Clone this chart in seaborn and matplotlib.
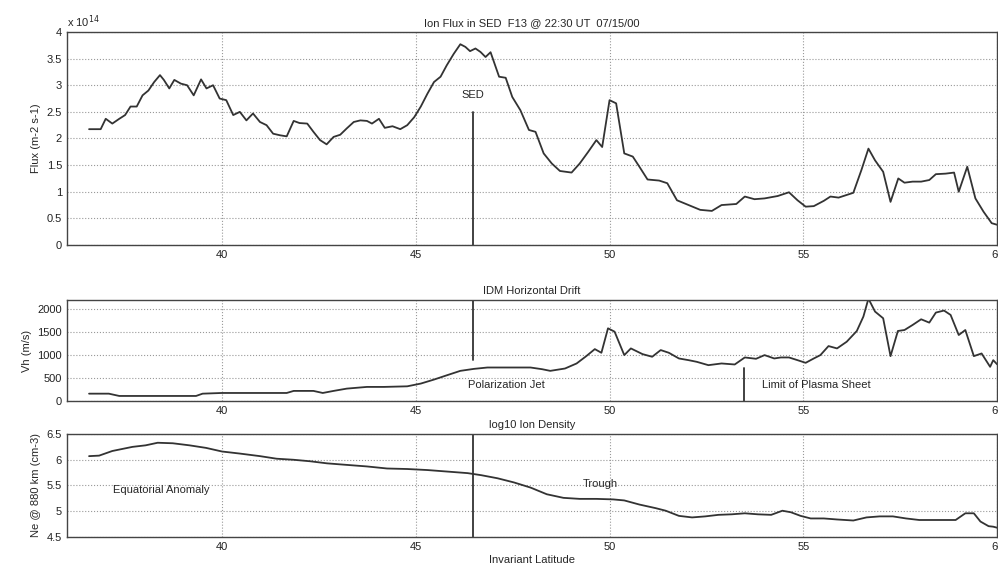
import numpy as np
import pandas as pd
import seaborn as sns
import matplotlib.pyplot as plt

# ion flux in SED (units of 1e14 m-2 s-1)
flux_lat = [36.57, 36.87, 37.0, 37.17, 37.35, 37.5, 37.64, 37.8, 37.95, 38.1, 38.25, 38.4,
            38.5, 38.64, 38.77, 38.94, 39.1, 39.27, 39.46, 39.6, 39.77, 39.94, 40.11, 40.29,
            40.46, 40.63, 40.8, 40.98, 41.15, 41.32, 41.5, 41.67, 41.85, 42.0, 42.2, 42.36,
            42.53, 42.7, 42.88, 43.05, 43.22, 43.4, 43.57, 43.74, 43.87, 44.05, 44.2, 44.4,
            44.6, 44.78, 44.96, 45.13, 45.3, 45.47, 45.64, 45.8, 45.98, 46.15, 46.28, 46.4,
            46.54, 46.67, 46.8, 46.93, 47.15, 47.32, 47.49, 47.7, 47.92, 48.09, 48.3, 48.51,
            48.72, 49.02, 49.23, 49.45, 49.66, 49.81, 50.0, 50.17, 50.38, 50.6, 50.77, 50.98,
            51.28, 51.49, 51.74, 52.04, 52.34, 52.64, 52.89, 53.27, 53.49, 53.74, 54.0, 54.34,
            54.63, 54.85, 55.06, 55.27, 55.53, 55.7, 55.91, 56.12, 56.29, 56.5, 56.68, 56.85,
            57.06, 57.25, 57.45, 57.61, 57.82, 58.04, 58.25, 58.42, 58.67, 58.89, 59.01, 59.23,
            59.44, 59.65, 59.86, 60.0]
flux_val = [2.175, 2.175, 2.37, 2.28, 2.37, 2.44, 2.6, 2.6, 2.81, 2.9, 3.06, 3.19,
            3.1, 2.94, 3.1, 3.03, 3.0, 2.81, 3.11, 2.94, 3.0, 2.75, 2.72, 2.44,
            2.5, 2.34, 2.47, 2.31, 2.25, 2.09, 2.06, 2.04, 2.33, 2.29, 2.28, 2.125,
            1.97, 1.89, 2.03, 2.07, 2.19, 2.31, 2.34, 2.33, 2.28, 2.37, 2.2, 2.23,
            2.175, 2.25, 2.4, 2.6, 2.84, 3.06, 3.16, 3.375, 3.59, 3.77, 3.72, 3.64,
            3.69, 3.625, 3.53, 3.62, 3.16, 3.14, 2.78, 2.53, 2.16, 2.125, 1.72, 1.53,
            1.39, 1.36, 1.53, 1.75, 1.97, 1.84, 2.72, 2.66, 1.72, 1.66, 1.47, 1.23,
            1.21, 1.16, 0.84, 0.75, 0.66, 0.64, 0.75, 0.77, 0.91, 0.86, 0.875, 0.92,
            0.99, 0.84, 0.72, 0.73, 0.83, 0.91, 0.89, 0.94, 0.98, 1.41, 1.81, 1.59,
            1.375, 0.81, 1.25, 1.17, 1.19, 1.19, 1.22, 1.33, 1.34, 1.36, 1.0, 1.47,
            0.875, 0.625, 0.41, 0.38]

# IDM horizontal drift (m/s)
drift_lat = [36.57, 37.08, 37.35, 38.12, 39.33, 39.5, 40.0, 41.67, 41.85, 42.36, 42.6, 42.88,
             43.22, 43.74, 44.18, 44.78, 45.13, 45.47, 45.8, 46.15, 46.5, 46.85, 47.19, 47.53,
             47.96, 48.26, 48.47, 48.85, 49.15, 49.4, 49.62, 49.79, 49.96, 50.13, 50.38, 50.55,
             50.85, 51.1, 51.32, 51.53, 51.79, 52.04, 52.25, 52.55, 52.89, 53.23, 53.49, 53.78,
             54.0, 54.25, 54.42, 54.63, 54.85, 55.06, 55.27, 55.44, 55.65, 55.87, 56.12, 56.38,
             56.55, 56.68, 56.85, 57.06, 57.25, 57.44, 57.61, 57.82, 58.04, 58.25, 58.42, 58.63,
             58.8, 59.01, 59.18, 59.4, 59.6, 59.82, 59.9, 60.0]
drift_val = [160, 160, 110, 110, 110, 160, 175, 175, 220, 220, 175, 220,
             270, 307, 307, 320, 380, 467, 560, 657, 700, 730, 730, 730,
             730, 693, 657, 708, 818, 978, 1131, 1051, 1584, 1511, 1000, 1146,
             1022, 964, 1110, 1051, 927, 890, 854, 781, 818, 796, 949, 920,
             1000, 927, 949, 949, 890, 832, 927, 1000, 1197, 1146, 1292, 1526,
             1840, 2230, 1949, 1803, 978, 1526, 1547, 1657, 1781, 1708, 1927, 1971,
             1876, 1438, 1547, 978, 1036, 745, 890, 800]

# log10 ion density (cm-3)
dens_lat = [36.57, 36.83, 37.17, 37.69, 38.03, 38.34, 38.73, 39.16, 39.59, 40.0, 40.46, 40.98,
            41.41, 41.84, 42.28, 42.71, 43.22, 43.74, 44.26, 44.78, 45.3, 45.82, 46.34, 46.69,
            47.11, 47.53, 47.96, 48.38, 48.81, 49.23, 49.66, 50.09, 50.38, 50.77, 51.19, 51.45,
            51.79, 52.13, 52.47, 52.81, 53.15, 53.49, 53.83, 54.17, 54.46, 54.68, 54.93, 55.19,
            55.53, 55.87, 56.29, 56.63, 56.97, 57.31, 57.65, 57.99, 58.42, 58.93, 59.18, 59.4,
            59.57, 59.78, 59.9, 60.0]
dens_val = [6.07, 6.08, 6.17, 6.25, 6.28, 6.33, 6.32, 6.28, 6.23, 6.16, 6.12, 6.07,
            6.02, 6.0, 5.97, 5.93, 5.9, 5.87, 5.83, 5.82, 5.8, 5.77, 5.74, 5.7,
            5.64, 5.56, 5.46, 5.33, 5.26, 5.24, 5.24, 5.23, 5.21, 5.13, 5.06, 5.01,
            4.91, 4.88, 4.9, 4.93, 4.94, 4.96, 4.94, 4.93, 5.01, 4.98, 4.91, 4.86,
            4.86, 4.84, 4.82, 4.88, 4.9, 4.9, 4.86, 4.83, 4.83, 4.83, 4.96, 4.96,
            4.8, 4.71, 4.7, 4.68]

sed_lat = 46.48
plasma_sheet_lat = 53.46

flux = pd.DataFrame({"lat": flux_lat, "val": flux_val})
drift = pd.DataFrame({"lat": drift_lat, "val": drift_val})
dens = pd.DataFrame({"lat": dens_lat, "val": dens_val})

sns.set_style("white")
plt.rcParams["font.family"] = ["Liberation Sans", "DejaVu Sans"]
plt.rcParams["font.size"] = 8

fig = plt.figure(figsize=(9.98, 5.64), dpi=100)
ax1 = fig.add_axes([0.0671, 0.5656, 0.932, 0.3777])
ax2 = fig.add_axes([0.0671, 0.289, 0.932, 0.179])
ax3 = fig.add_axes([0.0671, 0.0479, 0.932, 0.1826])

line_col = "#333333"
for ax, df in [(ax1, flux), (ax2, drift), (ax3, dens)]:
    sns.lineplot(data=df, x="lat", y="val", ax=ax, color=line_col, lw=1.3,
                 estimator=None, sort=False)
    ax.set_xlim(36, 60)
    ax.set_xticks([40, 45, 50, 55, 60])
    ax.grid(True, linestyle=":", color="#999999", lw=0.8)
    ax.tick_params(direction="in", length=4, labelsize=8, colors="#222222")
    for s in ax.spines.values():
        s.set_color("#444444")
        s.set_linewidth(1.0)
    ax.set_xlabel("")

ax1.set_ylim(0, 4)
ax1.set_yticks(np.arange(0, 4.01, 0.5))
ax1.set_yticklabels(["0", "0.5", "1", "1.5", "2", "2.5", "3", "3.5", "4"])
ax1.set_ylabel("Flux (m-2 s-1)", fontsize=8)
ax1.set_title("Ion Flux in SED  F13 @ 22:30 UT  07/15/00", fontsize=8, pad=4)
ax1.text(0.0, 1.01, "x 10$^{14}$", transform=ax1.transAxes, fontsize=8, va="bottom")
ax1.plot([sed_lat, sed_lat], [0, 2.5], color=line_col, lw=1.3)
ax1.text(sed_lat, 2.82, "SED", ha="center", va="center", fontsize=8)

ax2.set_ylim(0, 2200)
ax2.set_yticks([0, 500, 1000, 1500, 2000])
ax2.set_ylabel("Vh (m/s)", fontsize=8)
ax2.set_title("IDM Horizontal Drift", fontsize=8, pad=4)
ax2.plot([sed_lat, sed_lat], [890, 2200], color=line_col, lw=1.3)
ax2.plot([plasma_sheet_lat, plasma_sheet_lat], [0, 730], color=line_col, lw=1.3)
ax2.text(46.35, 340, "Polarization Jet", va="center", fontsize=8)
ax2.text(53.93, 340, "Limit of Plasma Sheet", va="center", fontsize=8)

ax3.set_ylim(4.5, 6.5)
ax3.set_yticks([4.5, 5, 5.5, 6, 6.5])
ax3.set_yticklabels(["4.5", "5", "5.5", "6", "6.5"])
ax3.set_ylabel("Ne @ 880 km (cm-3)", fontsize=8)
ax3.set_title("log10 Ion Density", fontsize=8, pad=4)
ax3.plot([sed_lat, sed_lat], [4.5, 6.5], color=line_col, lw=1.3)
ax3.text(37.2, 5.42, "Equatorial Anomaly", va="center", fontsize=8)
ax3.text(49.3, 5.52, "Trough", va="center", fontsize=8)
ax3.set_xlabel("Invariant Latitude", fontsize=8, labelpad=2)

fig.savefig("out.png", dpi=100)
